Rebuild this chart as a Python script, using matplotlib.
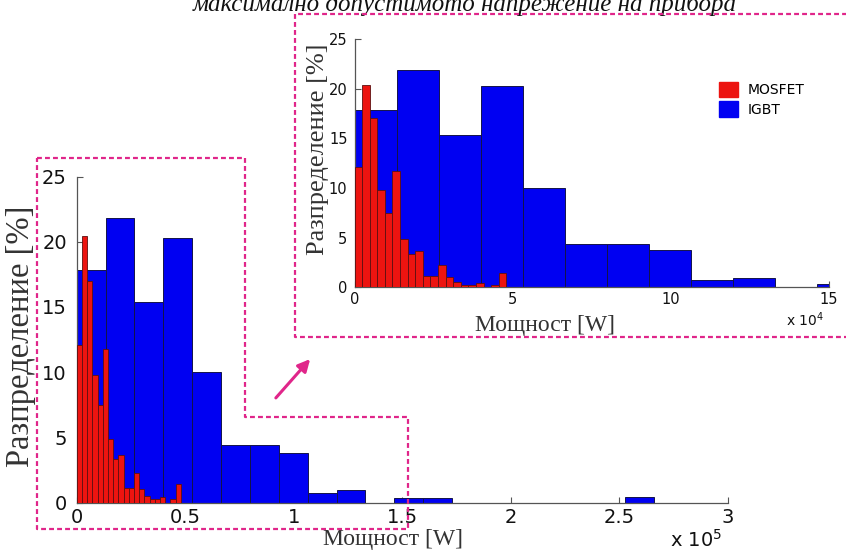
import numpy as np
import matplotlib
matplotlib.use("Agg")
import matplotlib.pyplot as plt
from matplotlib.lines import Line2D
from matplotlib.patches import FancyArrowPatch, Patch

# histogram data (percent per bin)
igbt_bin_w = 13300      # W
mosfet_bin_w = 2400     # W
igbt_pct = [17.85, 21.84, 15.35, 20.3, 10.0, 4.4, 4.4, 3.8, 0.72, 0.97,
            0, 0.38, 0.38, 0, 0, 0, 0, 0, 0, 0.4]
mosfet_pct = [12.1, 20.4, 17.0, 9.8, 7.45, 11.75, 4.9, 3.35, 3.65, 1.1,
              1.1, 2.25, 1.0, 0.5, 0.25, 0.25, 0.45, 0, 0.25, 1.4]
labels = ["MOSFET", "IGBT"]
y_ticks = [0, 5, 10, 15, 20, 25]
main_xticks = [0, 0.5, 1, 1.5, 2, 2.5, 3]
inset_xticks = [0, 5, 10, 15]

title = "максимално допустимото напрежение на прибора"
ylab = "Разпределение [%]"
xlab = "Мощност [W]"

blue, blue_edge = "#0000f2", "#14144a"
red, red_edge = "#ec1410", "#5c1010"
pink = "#e0268a"
W, H = 846, 552

fig = plt.figure(figsize=(W / 100, H / 100), dpi=100)
fig.patch.set_facecolor("white")


def px(x, y):
    return x / W, 1 - y / H


def draw_hist(ax, scale, tick_fs):
    xb = np.arange(len(igbt_pct)) * igbt_bin_w / scale
    xr = np.arange(len(mosfet_pct)) * mosfet_bin_w / scale
    ax.bar(xb, igbt_pct, width=igbt_bin_w / scale, align="edge",
           color=blue, edgecolor=blue_edge, linewidth=0.7, zorder=2)
    ax.bar(xr, mosfet_pct, width=mosfet_bin_w / scale, align="edge",
           color=red, edgecolor=red_edge, linewidth=0.6, zorder=3)
    for s in ["top", "right"]:
        ax.spines[s].set_visible(False)
    for s in ["left", "bottom"]:
        ax.spines[s].set_color("#555555")
        ax.spines[s].set_linewidth(0.9)
    ax.set_ylim(0, 25)
    ax.set_yticks(y_ticks)
    ax.tick_params(direction="in", length=4, color="#555555",
                   labelsize=tick_fs, labelcolor="#111111")
    ax.set_facecolor("none")


# main axes
ax = fig.add_axes([*px(76.7, 502.5), (728 - 76.7) / W, (502.5 - 176.5) / H])
draw_hist(ax, 1e5, 14)
ax.set_xlim(0, 3)
ax.set_xticks(main_xticks)
ax.set_xticklabels([f"{t:g}" for t in main_xticks])
ax.tick_params(axis="x", pad=4)
ax.tick_params(axis="y", pad=7)
ax.set_ylabel(ylab, family="Liberation Serif", fontsize=23.5, color="#333333",
              va="center")
ax.yaxis.set_label_coords(-0.086, 0.511)
ax.set_xlabel(xlab, family="Liberation Serif", fontsize=17, color="#333333",
              va="center")
ax.xaxis.set_label_coords(0.4857, -0.115)
fig.text(*px(670, 540), "x 10$^{5}$", fontsize=14, va="center", color="#111111")

# inset axes
ins = fig.add_axes([*px(354.5, 287.3), (829 - 354.5) / W, (287.3 - 39) / H])
draw_hist(ins, 1e4, 10.5)
ins.set_xlim(0, 15)
ins.set_xticks(inset_xticks)
ins.tick_params(axis="y", pad=5)
ins.set_ylabel(ylab, family="Liberation Serif", fontsize=19, color="#333333",
               va="center")
ins.yaxis.set_label_coords(-0.077, 0.557)
ins.set_xlabel(xlab, family="Liberation Serif", fontsize=17, color="#333333",
               va="center")
ins.xaxis.set_label_coords(0.4015, -0.152)
fig.text(*px(786, 320), "x 10$^{4}$", fontsize=10, va="center", color="#111111")

handles = [Patch(facecolor=red, edgecolor=red), Patch(facecolor=blue, edgecolor=blue)]
ins.legend(handles, labels, loc="upper left", bbox_to_anchor=px(719, 82),
           bbox_transform=fig.transFigure, frameon=False, fontsize=10,
           borderpad=0, handlelength=1.35, handleheight=1.3,
           handletextpad=0.7, labelspacing=0.3, borderaxespad=0)

# cut-off caption at the top (as in the source image)
fig.text(*px(465, 10.5), title, family="Liberation Serif", style="italic",
         fontsize=18, ha="center", va="baseline", color="#111111")

# dashed frames
dash = dict(color=pink, linewidth=1.6, linestyle=(0, (2.2, 1.4)),
            transform=fig.transFigure, zorder=10)
main_box = [(36.7, 158.3), (245, 158.3), (245, 417), (407.5, 417),
            (407.5, 528.5), (36.7, 528.5), (36.7, 158.3)]
inset_box = [(850, 14), (295, 14), (295, 336.5), (850, 336.5)]
for box in (main_box, inset_box):
    xs, ys = zip(*[px(x, y) for x, y in box])
    fig.add_artist(Line2D(xs, ys, **dash))

fig.add_artist(FancyArrowPatch(px(274, 400), px(312, 357), transform=fig.transFigure,
                               arrowstyle="-|>", mutation_scale=18,
                               color=pink, linewidth=2.2))

fig.savefig("out.png", dpi=100)
